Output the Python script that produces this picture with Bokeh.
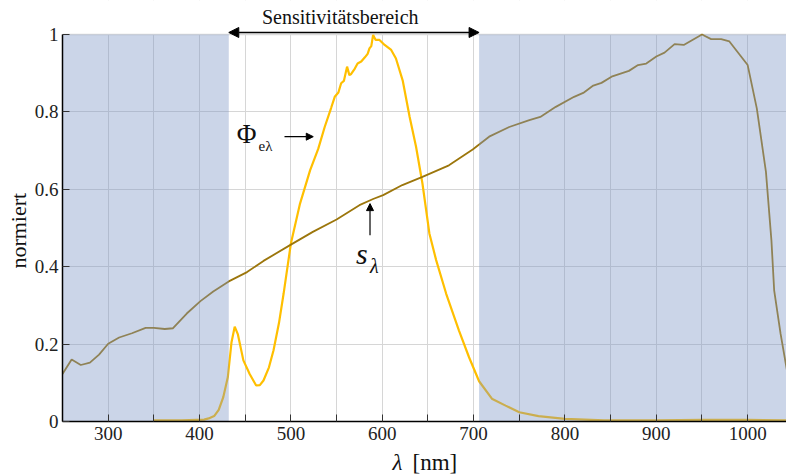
import math
from bokeh.plotting import figure
from bokeh.layouts import column, row
from bokeh.models import (Range1d, FixedTicker, CustomJSTickFormatter, BoxAnnotation,
                          Label, Arrow, NormalHead, Span)
from bokeh.embed import file_html
from bokeh.resources import INLINE

# ---- data ----
s_wl = [250, 260, 270, 280, 290, 300, 312, 326, 341, 350,
        362, 371, 386, 401, 415, 432, 452, 470, 500, 524,
        550, 575, 590, 601, 622, 644, 673, 699, 717, 739,
        761, 773, 790, 810, 820, 831, 840, 851, 870, 880,
        889, 900, 909, 920, 930, 950, 960, 971, 980, 1000,
        1010, 1020, 1026, 1029, 1036, 1043]
s_val = [0.123, 0.160, 0.146, 0.152, 0.173, 0.201, 0.217, 0.228, 0.242, 0.242,
         0.239, 0.241, 0.279, 0.311, 0.336, 0.362, 0.386, 0.415, 0.457, 0.490,
         0.522, 0.559, 0.575, 0.585, 0.611, 0.632, 0.662, 0.703, 0.736, 0.761,
         0.779, 0.787, 0.813, 0.839, 0.849, 0.868, 0.875, 0.891, 0.906, 0.921,
         0.925, 0.943, 0.953, 0.975, 0.973, 1.0, 0.988, 0.988, 0.982, 0.921,
         0.809, 0.645, 0.468, 0.339, 0.227, 0.132]

phi_wl = [350, 380, 405, 410, 416, 421, 426, 431, 435, 438.5,
          442, 448, 455, 462, 466, 470, 476, 481, 487, 492,
          500, 510, 521, 530, 537, 544, 548, 552, 555, 558,
          561.5, 564, 566, 570, 573, 577, 581, 584, 586, 588,
          590, 592.8, 597, 602.6, 609.8, 615, 622.5, 630, 637, 644,
          651.6, 659, 670, 684, 695, 706, 720, 735, 750, 771,
          800, 843, 900, 950, 1000, 1043]
phi_val = [0.003, 0.003, 0.005, 0.008, 0.014, 0.03, 0.063, 0.115, 0.205, 0.245,
           0.225, 0.158, 0.122, 0.093, 0.094, 0.106, 0.14, 0.184, 0.255, 0.33,
           0.46, 0.563, 0.649, 0.705, 0.761, 0.81, 0.839, 0.85, 0.874, 0.88,
           0.917, 0.895, 0.898, 0.912, 0.925, 0.93, 0.941, 0.95, 0.964, 0.97,
           0.999, 0.986, 0.986, 0.973, 0.96, 0.938, 0.88, 0.787, 0.71, 0.615,
           0.486, 0.417, 0.33, 0.235, 0.166, 0.104, 0.059, 0.041, 0.024, 0.014,
           0.007, 0.003, 0.003, 0.004, 0.004, 0.003]

x_ticks = [300, 400, 500, 600, 700, 800, 900, 1000]
x_minor = [250, 350, 450, 550, 650, 750, 850, 950, 1050]
y_ticks = [0, 0.2, 0.4, 0.6, 0.8, 1.0]

band_lo = 432   # Sensitivitätsbereich start (nm)
band_hi = 706   # Sensitivitätsbereich end (nm)

SERIF = "Liberation Serif"
TXT = "#111111"
LEFT_W = 31
MAIN_H = 448

# main figure: frame extends above y=1 so the title and arrow sit inside it
p = figure(width=786 - LEFT_W, height=MAIN_H, x_range=Range1d(250, 1042.5),
           y_range=Range1d(0, 1.08785), output_backend="svg", toolbar_location=None,
           min_border_left=58 - LEFT_W, min_border_right=0, min_border_top=0,
           min_border_bottom=MAIN_H - 421)
p.outline_line_color = None
p.background_fill_color = "white"

xt = FixedTicker(ticks=x_ticks, minor_ticks=x_minor)
yt = FixedTicker(ticks=y_ticks, minor_ticks=[])
p.xaxis.ticker = xt
p.yaxis.ticker = yt
p.xgrid.ticker = xt
p.ygrid.ticker = yt
p.yaxis.formatter = CustomJSTickFormatter(
    code="if (Math.abs(tick) < 1e-9) return '0'; if (Math.abs(tick-1) < 1e-9) return '1'; return tick.toFixed(1);")
p.yaxis.bounds = (0, 1)

for ax in (p.xaxis[0], p.yaxis[0]):
    ax.axis_line_color = "black"
    ax.axis_line_width = 1.5
    ax.major_tick_in = 7
    ax.major_tick_out = 0
    ax.minor_tick_in = 7
    ax.minor_tick_out = 0
    ax.major_tick_line_color = "#333333"
    ax.minor_tick_line_color = "#333333"
    ax.major_label_text_font = SERIF
    ax.major_label_text_font_size = "19px"
    ax.major_label_text_color = "#222222"
    ax.major_label_standoff = 5
p.yaxis.major_label_standoff = 4

p.xgrid.grid_line_color = "#d6d6d6"
p.xgrid.minor_grid_line_color = "#d6d6d6"
p.ygrid.grid_line_color = "#d6d6d6"

# white cover above y=1 (hides grid lines there), then the light top line
p.add_layout(BoxAnnotation(bottom=1, fill_color="white", fill_alpha=1.0,
                           line_color=None, level="underlay"))
p.add_layout(Span(location=1, dimension="width", line_color="#dcdcdc",
                  line_width=1.5, level="underlay"))

p.line(phi_wl, phi_val, line_color="#ffbf00", line_width=2.2)
p.line(s_wl, s_val, line_color="#9c760c", line_width=1.8)

for l, r in ((None, band_lo), (band_hi, None)):
    p.add_layout(BoxAnnotation(left=l, right=r, top=1, fill_color="#7d96c5", fill_alpha=0.4,
                               line_color=None, level="glyph"))

# title + double arrow
p.add_layout(Label(x=554, y=1.0452, text="Sensitivitätsbereich", text_font=SERIF,
                   text_font_size="20px", text_align="center", text_baseline="middle",
                   text_color=TXT))
p.add_layout(Arrow(x_start=band_lo, y_start=1.0052, x_end=band_hi, y_end=1.0052,
                   line_width=1.3, line_color="black",
                   start=NormalHead(size=10, fill_color="black", line_color="black"),
                   end=NormalHead(size=10, fill_color="black", line_color="black")))

# Phi label and arrow
p.add_layout(Label(x=440.6, y=0.7416, text="Φ", text_font=SERIF, text_font_size="27px",
                   text_align="left", text_baseline="middle", text_color=TXT))
p.add_layout(Label(x=464.6, y=0.713, text="eλ", text_font=SERIF, text_font_size="15px",
                   text_align="left", text_baseline="middle", text_color=TXT))
p.add_layout(Arrow(x_start=493, y_start=0.736, x_end=524.5, y_end=0.736,
                   line_width=1.2, line_color="black",
                   end=NormalHead(size=7, fill_color="black", line_color="black")))

# s label and arrow
p.add_layout(Label(x=571.4, y=0.4346, text="s", text_font=SERIF, text_font_size="30px",
                   text_font_style="italic", text_align="left", text_baseline="middle",
                   text_color=TXT))
p.add_layout(Label(x=586.6, y=0.403, text="λ", text_font=SERIF, text_font_size="20px",
                   text_font_style="italic", text_align="left", text_baseline="middle",
                   text_color=TXT))
p.add_layout(Arrow(x_start=586.6, y_start=0.481, x_end=586.6, y_end=0.563,
                   line_width=1.2, line_color="black",
                   end=NormalHead(size=7, fill_color="black", line_color="black")))

# left strip with the y-axis label (pixel coordinates)
lft = figure(width=LEFT_W, height=MAIN_H, x_range=Range1d(0, LEFT_W), y_range=Range1d(0, MAIN_H),
             x_axis_type=None, y_axis_type=None, output_backend="svg", toolbar_location=None,
             min_border_left=0, min_border_right=0, min_border_top=0, min_border_bottom=0)
lft.outline_line_color = None
lft.add_layout(Label(x=17.5, y=MAIN_H - 245, text="normiert", text_font=SERIF,
                     text_font_size="22px", angle=math.pi / 2, text_align="center",
                     text_baseline="middle", text_color=TXT))

# bottom strip with the x-axis label (pixel coordinates)
BOT_H = 475 - MAIN_H
q = figure(width=786, height=BOT_H, x_range=Range1d(0, 786), y_range=Range1d(0, BOT_H),
           x_axis_type=None, y_axis_type=None, output_backend="svg", toolbar_location=None,
           min_border_left=0, min_border_right=0, min_border_top=0, min_border_bottom=0)
q.outline_line_color = None
q.add_layout(Label(x=392, y=BOT_H / 2, text="λ", text_font=SERIF, text_font_size="23px",
                   text_font_style="italic", text_align="left", text_baseline="middle",
                   text_color=TXT))
q.add_layout(Label(x=412, y=BOT_H / 2, text="[nm]", text_font=SERIF, text_font_size="23px",
                   text_align="left", text_baseline="middle", text_color=TXT))

layout = column(row(lft, p, spacing=0), q, spacing=0)
open("out.html", "w").write(file_html(layout, INLINE))
